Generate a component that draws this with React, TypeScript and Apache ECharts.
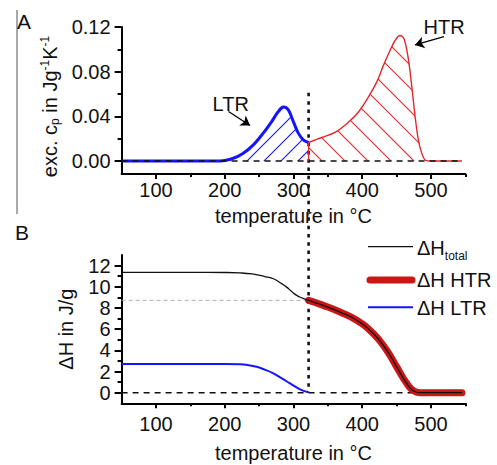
import React, { useEffect, useRef } from "react";
import * as echarts from "echarts";

const FONT = "'Liberation Sans', Arial, Helvetica, sans-serif";

// ---------- axes ----------
const xMin = 50;
const xMax = 550;
const xMajor = [100, 200, 300, 400, 500];
const xMinor = [150, 250, 350, 450, 550];
const yAMin = -0.0117;
const yAMax = 0.12;
const yAMajor = [0, 0.04, 0.08, 0.12];
const yAMinor = [0.02, 0.06, 0.1];
const yBMin = -1;
const yBMax = 13;
const yBMajor = [0, 2, 4, 6, 8, 10, 12];
const yBMinor = [1, 3, 5, 7, 9, 11];

// ---------- panel A: excess heat capacity ----------
const ltrCpT = [50, 100, 150, 193, 212.5, 227, 241.6, 256, 268.3, 277.9, 285.2, 292.5, 299.8, 307, 314.3, 322];
const ltrCpV = [0, 0, 0, 0, 0.0024, 0.0069, 0.0144, 0.0249, 0.0353, 0.0443, 0.0483, 0.0458, 0.0353, 0.0249, 0.0189, 0.0165];
const htrCpT = [322, 341, 360.4, 379.8, 394.3, 408.9, 421, 430.7, 440.4, 447.7, 455, 460.8, 467, 472, 476.8, 481.6, 486.5, 492.3, 500, 545];
const htrCpV = [0.0165, 0.021, 0.0255, 0.0346, 0.0436, 0.0571, 0.0706, 0.0854, 0.0989, 0.1079, 0.1124, 0.1094, 0.0917, 0.0674, 0.0404, 0.019, 0.007, 0.0005, 0, 0];
const splitT = 322;
const splitCp = 0.0165;
const dottedTopCp = 0.061;
const baseA = [50, 545];

// annotations (data coords)
const ltrLabel = { t: 208.8, v: 0.0509 };
const ltrArrow = { t1: 205.5, v1: 0.0443, t2: 236.8, v2: 0.0318 };
const htrLabel = { t: 519, v: 0.119 };
const htrArrow = { t1: 518.9, v1: 0.1114, t2: 476.8, v2: 0.1039 };

// ---------- panel B: enthalpy ----------
const totalT = [50, 150, 200, 222, 240, 251.3, 260, 270.7, 280, 290.1, 297, 304.7, 313, 322, 343.4, 367.7, 392, 416.1, 435.6, 450.1, 464.7, 474.3, 484, 500, 545];
const totalV = [11.35, 11.35, 11.34, 11.3, 11.2, 11.06, 10.93, 10.75, 10.4, 9.96, 9.56, 9.18, 8.92, 8.71, 8.24, 7.61, 6.83, 5.58, 4.01, 2.44, 0.88, 0.19, 0, 0, 0];
const htrHT = [322, 343.4, 367.7, 392, 416.1, 435.6, 450.1, 464.7, 474.3, 484, 500, 545];
const htrHV = [8.71, 8.24, 7.61, 6.83, 5.58, 4.01, 2.44, 0.88, 0.19, 0, 0, 0];
const ltrHT = [50, 150, 200, 222, 235, 246.5, 258, 270.7, 283, 295, 309.5, 322];
const ltrHV = [2.7, 2.7, 2.7, 2.68, 2.6, 2.44, 2.18, 1.82, 1.35, 0.88, 0.32, 0.04];
const htrLevel = 8.71;
const baseB = [50, 545];

const legendNames = ["ΔH{sub|total}", "ΔH HTR", "ΔH LTR"];

const BLUE = "#1414ff";
const RED_A = "#e3262a";
const RED_B = "#cc1616";

const pair = (t: number[], v: number[]) => t.map((x, i) => [x, v[i]]);

function hatch(color: string, p: number, dir: "/" | "\\") {
  const d =
    dir === "/"
      ? `M0,${p} L${p},0 M-3,3 L3,-3 M${p - 3},${p + 3} L${p + 3},${p - 3}`
      : `M0,0 L${p},${p} M${p - 3},-3 L${p + 3},3 M-3,${p - 3} L3,${p + 3}`;
  const svg = `<svg xmlns="http://www.w3.org/2000/svg" width="${p}" height="${p}"><path d="${d}" stroke="${color}" stroke-width="1.1" fill="none"/></svg>`;
  return {
    image: "data:image/svg+xml;base64," + btoa(svg),
    repeat: "repeat",
    imageWidth: p,
    imageHeight: p,
  } as any;
}

function xAxes(gridIndex: number, labelMargin: number, nameGap: number) {
  return [
    {
      type: "value",
      gridIndex,
      position: "bottom",
      min: xMin,
      max: xMax,
      name: "temperature in °C",
      nameLocation: "middle",
      nameGap,
      nameTextStyle: { fontFamily: FONT, fontSize: 20, color: "#111" },
      axisLine: { onZero: false, lineStyle: { color: "#000", width: 2 } },
      axisTick: { customValues: xMajor, length: 5, lineStyle: { width: 2, color: "#000" } },
      axisLabel: { customValues: xMajor, margin: labelMargin, fontFamily: FONT, fontSize: 20, color: "#111" },
      splitLine: { show: false },
    },
    {
      type: "value",
      gridIndex,
      position: "bottom",
      min: xMin,
      max: xMax,
      axisLine: { show: false, onZero: false },
      axisTick: { customValues: xMinor, length: 3, lineStyle: { width: 2, color: "#000" } },
      axisLabel: { show: false },
      splitLine: { show: false },
    },
  ];
}

export default function App() {
  const ref = useRef<HTMLDivElement>(null);
  useEffect(() => {
    if (!ref.current) return;
    const chart = echarts.init(ref.current, undefined, { renderer: "svg" });
    const option: any = {
      animation: false,
      backgroundColor: "#fff",
      textStyle: { fontFamily: FONT },
      grid: [
        { left: 121.6, top: 27, width: 343.75, height: 147 },
        { left: 121.6, top: 254.9, width: 343.75, height: 148.4 },
      ],
      xAxis: [...xAxes(0, 6, 32), ...xAxes(1, 11, 39.5)],
      yAxis: [
        {
          type: "value",
          gridIndex: 0,
          position: "left",
          min: yAMin,
          max: yAMax,
          name: "exc. c{sub|p} in Jg{sup|-1}K{sup|-1}",
          nameLocation: "middle",
          nameRotate: 90,
          nameGap: 60,
          nameTextStyle: {
            fontFamily: FONT,
            fontSize: 20,
            color: "#111",
            lineHeight: 22,
            padding: [0, 12, 0, 0],
            rich: {
              sub: { fontFamily: FONT, fontSize: 12, lineHeight: 4, verticalAlign: "bottom", color: "#111" },
              sup: { fontFamily: FONT, fontSize: 12, lineHeight: 10, verticalAlign: "top", color: "#111" },
            },
          },
          axisLine: { onZero: false, lineStyle: { color: "#000", width: 2 } },
          axisTick: { customValues: yAMajor, length: 7, lineStyle: { width: 2, color: "#000" } },
          axisLabel: {
            customValues: yAMajor,
            margin: 11,
            fontFamily: FONT,
            fontSize: 20,
            color: "#111",
            formatter: (v: number) => v.toFixed(2),
          },
          splitLine: { show: false },
        },
        {
          type: "value",
          gridIndex: 0,
          position: "left",
          min: yAMin,
          max: yAMax,
          axisLine: { show: false, onZero: false },
          axisTick: { customValues: yAMinor, length: 4, lineStyle: { width: 2, color: "#000" } },
          axisLabel: { show: false },
          splitLine: { show: false },
        },
        {
          type: "value",
          gridIndex: 1,
          position: "left",
          min: yBMin,
          max: yBMax,
          name: "ΔH in J/g",
          nameLocation: "middle",
          nameRotate: 90,
          nameGap: 46,
          nameTextStyle: { fontFamily: FONT, fontSize: 20, color: "#111" },
          axisLine: { onZero: false, lineStyle: { color: "#000", width: 2 } },
          axisTick: { customValues: yBMajor, length: 7, lineStyle: { width: 2, color: "#000" } },
          axisLabel: { customValues: yBMajor, margin: 11, fontFamily: FONT, fontSize: 20, color: "#111" },
          splitLine: { show: false },
        },
        {
          type: "value",
          gridIndex: 1,
          position: "left",
          min: yBMin,
          max: yBMax,
          axisLine: { show: false, onZero: false },
          axisTick: { customValues: yBMinor, length: 4, lineStyle: { width: 2, color: "#000" } },
          axisLabel: { show: false },
          splitLine: { show: false },
        },
      ],
      series: [
        // ---- panel A ----
        {
          name: "LTR cp",
          type: "line",
          xAxisIndex: 0,
          yAxisIndex: 0,
          data: pair(ltrCpT, ltrCpV),
          smooth: 0.35,
          symbol: "none",
          lineStyle: { color: BLUE, width: 3 },
          areaStyle: { color: hatch(BLUE, 17, "/"), opacity: 1 },
          markLine: {
            silent: true,
            symbol: ["none", "arrow"],
            symbolSize: 9,
            label: { show: false },
            lineStyle: { color: "#000", width: 1.3, type: "solid" },
            data: [[{ coord: [ltrArrow.t1, ltrArrow.v1] }, { coord: [ltrArrow.t2, ltrArrow.v2] }]],
          },
          markPoint: {
            silent: true,
            symbol: "circle",
            symbolSize: 1,
            itemStyle: { color: "transparent" },
            label: { show: true, position: "inside", formatter: "LTR", fontFamily: FONT, fontSize: 20, color: "#111" },
            data: [{ coord: [ltrLabel.t, ltrLabel.v] }],
          },
          z: 3,
        },
        {
          name: "HTR cp",
          type: "line",
          xAxisIndex: 0,
          yAxisIndex: 0,
          data: pair(htrCpT, htrCpV),
          smooth: 0.35,
          symbol: "none",
          lineStyle: { color: RED_A, width: 1.4 },
          areaStyle: { color: hatch(RED_A, 23, "\\"), opacity: 1 },
          markLine: {
            silent: true,
            symbol: ["none", "arrow"],
            symbolSize: 9,
            label: { show: false },
            lineStyle: { color: "#000", width: 1.3, type: "solid" },
            data: [[{ coord: [htrArrow.t1, htrArrow.v1] }, { coord: [htrArrow.t2, htrArrow.v2] }]],
          },
          markPoint: {
            silent: true,
            symbol: "circle",
            symbolSize: 1,
            itemStyle: { color: "transparent" },
            label: { show: true, position: "inside", offset: [0, -1.5], formatter: "HTR", fontFamily: FONT, fontSize: 20, color: "#111" },
            data: [{ coord: [htrLabel.t, htrLabel.v] }],
          },
          z: 3,
        },
        {
          name: "split edge",
          type: "line",
          xAxisIndex: 0,
          yAxisIndex: 0,
          data: [
            [splitT, 0],
            [splitT, splitCp],
          ],
          symbol: "none",
          lineStyle: { color: RED_A, width: 1.4 },
          z: 3,
        },
        {
          name: "baseline A",
          type: "line",
          xAxisIndex: 0,
          yAxisIndex: 0,
          data: baseA.map((t) => [t, 0]),
          symbol: "none",
          lineStyle: { color: "#111", width: 1.6, type: [6, 5] },
          z: 5,
        },
        // ---- panel B ----
        {
          name: "HTR level",
          type: "line",
          xAxisIndex: 2,
          yAxisIndex: 2,
          data: [
            [xMin, htrLevel],
            [splitT, htrLevel],
          ],
          symbol: "none",
          lineStyle: { color: "#b0b0b0", width: 1, type: [4, 3] },
          z: 2,
        },
        {
          name: "baseline B",
          type: "line",
          xAxisIndex: 2,
          yAxisIndex: 2,
          data: baseB.map((t) => [t, 0]),
          symbol: "none",
          lineStyle: { color: "#111", width: 1.6, type: [6, 5] },
          z: 2,
        },
        {
          name: "ΔH LTR",
          type: "line",
          xAxisIndex: 2,
          yAxisIndex: 2,
          data: pair(ltrHT, ltrHV),
          smooth: 0.5,
          symbol: "none",
          lineStyle: { color: BLUE, width: 2 },
          z: 3,
        },
        {
          name: "ΔH HTR",
          type: "line",
          xAxisIndex: 2,
          yAxisIndex: 2,
          data: pair(htrHT, htrHV),
          smooth: 0.5,
          symbol: "none",
          lineStyle: { color: RED_B, width: 7, cap: "round" },
          z: 3,
        },
        {
          name: "ΔH total",
          type: "line",
          xAxisIndex: 2,
          yAxisIndex: 2,
          data: pair(totalT, totalV),
          smooth: 0.5,
          symbol: "none",
          lineStyle: { color: "#111", width: 1.3 },
          z: 4,
        },
      ],
    };
    chart.setOption(option);

    const xs = chart.convertToPixel({ xAxisIndex: 0 }, splitT) as number;
    const yTop = chart.convertToPixel({ yAxisIndex: 0 }, dottedTopCp) as number;
    const yBot = chart.convertToPixel({ yAxisIndex: 2 }, 0) as number;

    const legendText = (x: number, y: number, text: string) => ({
      type: "text",
      x,
      y,
      style: {
        text,
        fontFamily: FONT,
        fontSize: 20,
        fill: "#111",
        verticalAlign: "middle",
        align: "left",
        lineHeight: 28,
        rich: {
          sub: { fontFamily: FONT, fontSize: 12, lineHeight: 12, verticalAlign: "bottom", fill: "#111" },
        },
      },
      z: 10,
    });

    chart.setOption({
      graphic: [
        {
          type: "line",
          shape: { x1: xs, y1: yTop, x2: xs, y2: yBot },
          style: { stroke: "#111", lineWidth: 2.6, lineDash: [3.5, 4.8] },
          z: 1,
        },
        {
          type: "line",
          shape: { x1: 17, y1: 10, x2: 17, y2: 214 },
          style: { stroke: "#555", lineWidth: 1 },
        },
        {
          type: "text",
          x: 17,
          y: 21,
          style: { text: "A", fontFamily: FONT, fontSize: 21, fill: "#111", verticalAlign: "middle", align: "left" },
        },
        {
          type: "text",
          x: 15,
          y: 232,
          style: { text: "B", fontFamily: FONT, fontSize: 21, fill: "#111", verticalAlign: "middle", align: "left" },
        },
        // legend
        { type: "line", shape: { x1: 368, y1: 246.7, x2: 413, y2: 246.7 }, style: { stroke: "#111", lineWidth: 1.3 }, z: 10 },
        legendText(417, 247.5, legendNames[0]),
        { type: "line", shape: { x1: 370, y1: 280, x2: 412, y2: 280 }, style: { stroke: RED_B, lineWidth: 7, lineCap: "round" }, z: 10 },
        legendText(417, 280, legendNames[1]),
        { type: "line", shape: { x1: 368, y1: 307.3, x2: 413, y2: 307.3 }, style: { stroke: BLUE, lineWidth: 2 }, z: 10 },
        legendText(417, 308, legendNames[2]),
      ],
    });

    return () => chart.dispose();
  }, []);

  return (
    <div
      ref={ref}
      style={{ position: "fixed", left: 0, top: 0, width: 497, height: 465, background: "#fff" }}
    />
  );
}
